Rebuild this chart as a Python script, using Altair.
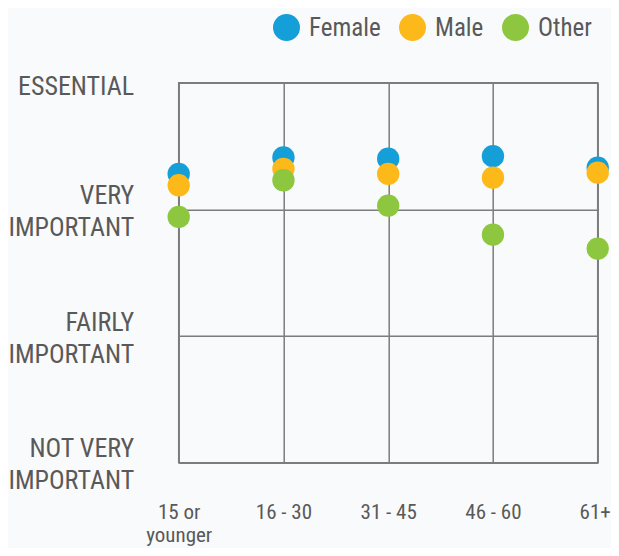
import altair as alt
import pandas as pd

# ---- data ----
age_groups = ["15 or younger", "16 - 30", "31 - 45", "46 - 60", "61+"]
age_labels = ["15 or\nyounger", "16 - 30", "31 - 45", "46 - 60", "61+"]
series = ["Female", "Male", "Other"]
female = [3.28, 3.41, 3.40, 3.42, 3.33]
male = [3.19, 3.32, 3.28, 3.25, 3.29]
other = [2.94, 3.23, 3.03, 2.80, 2.69]
level_values = [1, 2, 3, 4]
level_labels = ["NOT VERY\nIMPORTANT", "FAIRLY\nIMPORTANT", "VERY\nIMPORTANT", "ESSENTIAL"]
colors = ["#149fd9", "#fdb81a", "#8dc63f"]

rows = []
for name, vals in zip(series, [female, male, other]):
    for g, v in zip(age_groups, vals):
        rows.append({"age": g, "gender": name, "score": v})
df = pd.DataFrame(rows)

FONT = "'Roboto Condensed', 'Liberation Sans Narrow', 'DejaVu Sans Condensed', sans-serif"
TEXT = "#595959"
GRID = "#7c7c7c"

def split_expr(values, labels, key):
    parts = []
    for v, l in zip(values, labels):
        lines = ", ".join("'" + s + "'" for s in l.split("\n"))
        parts.append(f"{key} == {v!r} ? [{lines}]")
    return " : ".join(parts) + " : ''"

y_expr = split_expr(level_values, level_labels, "datum.value")
x_expr = split_expr(age_groups, age_labels, "datum.value")

chart = alt.Chart(df).mark_circle(size=500, opacity=1).encode(
    x=alt.X("age:N", sort=age_groups, title=None,
            scale=alt.Scale(type="point", padding=0),
            axis=alt.Axis(labelExpr=x_expr, labelAngle=0, ticks=False, domain=False,
                          grid=True, gridColor=GRID, gridWidth=1.5,
                          labelFont=FONT, labelFontSize=21, labelColor=TEXT,
                          labelBaseline="top", labelPadding=39, labelLineHeight=23,
                          labelOverlap=False,
                          labelOffset={"condition": {"test": f"datum.value == '{age_groups[-1]}'",
                                                     "value": -3}, "value": 0})),
    y=alt.Y("score:Q", title=None, scale=alt.Scale(domain=[1, 4], nice=False, zero=False),
            axis=alt.Axis(values=level_values, labelExpr=y_expr, ticks=False, domain=False,
                          grid=True, gridColor=GRID, gridWidth=1.5,
                          labelFont=FONT, labelFontSize=26, labelColor=TEXT,
                          labelAlign="right", labelBaseline="middle", labelPadding=45,
                          labelLineHeight=32, labelOverlap=False, labelFlush=False,
                          labelBound=False,
                          labelOffset={"condition": {"test": "datum.value == 4", "value": 4},
                                       "value": -14})),
    color=alt.Color("gender:N", scale=alt.Scale(domain=series, range=colors),
                    legend=alt.Legend(title=None, orient="none", direction="horizontal",
                                      legendX=94.3, legendY=-68.7, symbolType="circle",
                                      symbolSize=729, symbolStrokeWidth=0, symbolOpacity=1,
                                      labelFont=FONT, labelFontSize=25, labelColor=TEXT,
                                      labelOffset=9, columnPadding=18, padding=0)),
).properties(
    width=419, height=380,
    autosize=alt.AutoSizeParams(type="none"),
    padding={"left": 170.7, "top": 74.7, "right": 13.3, "bottom": 85.3},
).configure(
    background="#f9fafb"
).configure_view(
    stroke=GRID, strokeWidth=1.5
)

chart.save("out.html", embed_options={"renderer": "svg", "actions": False})
